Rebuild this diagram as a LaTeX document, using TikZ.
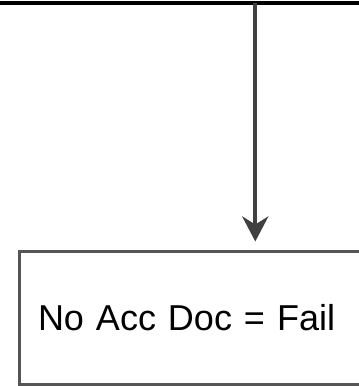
\documentclass[tikz,border=0pt]{standalone}
\usepackage{fontspec}
\setmainfont{Liberation Sans}
\usetikzlibrary{arrows.meta}
\definecolor{linegray}{HTML}{404040}
\definecolor{boxgray}{HTML}{555555}
\tikzset{
  busline/.style={line width=4pt, black},
  flowarrow/.style={line width=4pt, linegray, -{Stealth[length=25pt, width=26pt, inset=8pt]}, shorten >=8.5pt},
  outcome/.style={draw=boxgray, line width=3pt, minimum height=133pt, minimum width=350pt,
    text width=312pt, align=left, inner xsep=18.7pt, anchor=west,
    font=\fontsize{36}{43}\selectfont}
}
\begin{document}
\begin{tikzpicture}[x=1pt, y=-1pt]
\useasboundingbox (0,0) rectangle (359,386);
\clip (0,0) rectangle (359,386);
\coordinate (busL) at (-5,3);
\coordinate (busR) at (365,3);
\coordinate (drop) at (255.3,3);
\draw[busline] (busL) -- (busR);
\node[outcome] (fail) at (17.5,318) {No Acc Doc = Fail};
\draw[flowarrow] (drop) -- (drop |- fail.north);
\end{tikzpicture}
\end{document}
